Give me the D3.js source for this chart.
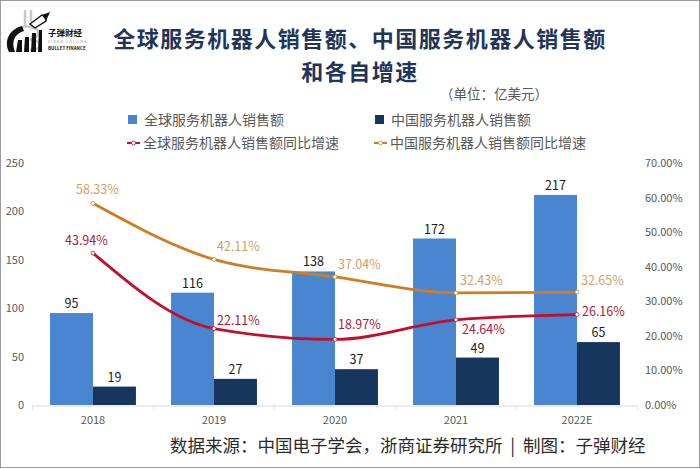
<!DOCTYPE html>
<html lang="zh">
<head>
<meta charset="UTF-8">
<title>全球服务机器人销售额、中国服务机器人销售额和各自增速</title>
<script src="https://cdn.jsdelivr.net/npm/d3@7"></script>
<style>
  body { margin: 0; background: #fff; font-family: "Noto Sans CJK SC", "Noto Sans", sans-serif; }
  svg text { font-family: "Noto Sans CJK SC", "Noto Sans", sans-serif; }
  .tick text { fill: #595959; font-size: 11px; }
</style>
</head>
<body>
<svg width="700" height="469"></svg>
<script>
  const years = ["2018", "2019", "2020", "2021", "2022E"];
  const globalSales = [95, 116, 138, 172, 217];
  const chinaSales = [19, 27, 37, 49, 65];
  const globalGrowth = [0.4394, 0.2211, 0.1897, 0.2464, 0.2616];
  const chinaGrowth = [0.5833, 0.4211, 0.3704, 0.3243, 0.3265];
  const leftTicks = [0, 50, 100, 150, 200, 250];
  const rightTicks = [0, 0.1, 0.2, 0.3, 0.4, 0.5, 0.6, 0.7];
  const seriesNames = ["全球服务机器人销售额", "中国服务机器人销售额",
                       "全球服务机器人销售额同比增速", "中国服务机器人销售额同比增速"];

  const blue = "#4a86cf", navy = "#17365d", red = "#c0102a", orange = "#cf7d22";

  const svg = d3.select("svg");

  // border
  svg.append("rect").attr("x", 0.5).attr("y", 0.5).attr("width", 699).attr("height", 467)
    .attr("fill", "none").attr("stroke", "#9a9a9a");

  // scales
  const x = d3.scaleBand().domain(years).range([32.5, 637.5]).paddingInner(0.29).paddingOuter(0.145);
  const x1 = d3.scaleBand().domain([0, 1]).range([0, x.bandwidth()]);
  const yL = d3.scaleLinear().domain([0, 250]).range([405, 163]);
  const yR = d3.scaleLinear().domain([0, 0.7]).range([405, 163]);
  const cx = d => x(d) + x.bandwidth() / 2;
  const pct = d3.format(".2%");

  // title
  const title = svg.append("g").attr("fill", "#1f3559").attr("font-weight", "bold")
    .attr("font-size", 22).attr("text-anchor", "middle").attr("letter-spacing", 1.5);
  title.append("text").attr("x", 360).attr("y", 47).text("全球服务机器人销售额、中国服务机器人销售额");
  title.append("text").attr("x", 360).attr("y", 80).text("和各自增速");

  svg.append("text").attr("x", 440).attr("y", 99).attr("font-size", 13.5).attr("fill", "#595959")
    .text("（单位：亿美元）");

  // axes
  svg.append("g").attr("transform", "translate(28,0)")
    .call(d3.axisLeft(yL).tickValues(leftTicks).tickSize(0).tickPadding(4))
    .call(g => g.select(".domain").remove());
  svg.append("g").attr("transform", "translate(641,0)")
    .call(d3.axisRight(yR).tickValues(rightTicks).tickSize(0).tickPadding(4).tickFormat(pct))
    .call(g => g.select(".domain").remove());
  svg.append("g").attr("transform", "translate(0,405.5)")
    .call(d3.axisBottom(x).tickSize(0).tickPadding(11))
    .call(g => g.select(".domain").attr("stroke", "#d9d9d9"))
    .call(g => g.selectAll(".tick text").attr("font-size", 12).attr("fill", "#404040"));
  svg.append("g").selectAll("line").data(d3.range(years.length + 1)).join("line")
    .attr("x1", i => 32.5 + i * x.step()).attr("x2", i => 32.5 + i * x.step())
    .attr("y1", 405.5).attr("y2", 410).attr("stroke", "#e3e3e3");

  // bars
  const barData = years.flatMap((yr, i) => [
    { yr, k: 0, v: globalSales[i] }, { yr, k: 1, v: chinaSales[i] }]);
  svg.append("g").selectAll("rect").data(barData).join("rect")
    .attr("x", d => x(d.yr) + x1(d.k)).attr("width", x1.bandwidth())
    .attr("y", d => yL(d.v)).attr("height", d => yL(0) - yL(d.v))
    .attr("fill", d => d.k === 0 ? blue : navy);
  svg.append("g").selectAll("text").data(barData).join("text")
    .attr("x", d => x(d.yr) + x1(d.k) + x1.bandwidth() / 2).attr("y", d => yL(d.v) - 5)
    .attr("text-anchor", "middle").attr("font-size", 12.5).attr("fill", "#1a1a1a")
    .text(d => d.v);

  // lines
  const line = d3.line().x(d => cx(d.yr)).y(d => yR(d.v)).curve(d3.curveMonotoneX);
  const lineSeries = [
    { vals: chinaGrowth, color: orange, label: "#d4a069",
      off: [[-17, -9], [3, -8], [3, -8], [4, -8], [4, -7]] },
    { vals: globalGrowth, color: red, label: "#a8203a",
      off: [[-28, -8], [3, -4], [3, -10], [6, 14], [5, 1]] }
  ];
  lineSeries.forEach(s => {
    const pts = years.map((yr, i) => ({ yr, v: s.vals[i] }));
    svg.append("path").datum(pts).attr("d", line).attr("fill", "none")
      .attr("stroke", s.color).attr("stroke-width", 2.8);
    svg.append("g").selectAll("circle").data(pts).join("circle")
      .attr("cx", d => cx(d.yr)).attr("cy", d => yR(d.v)).attr("r", 2)
      .attr("fill", "#fff").attr("stroke", s.color).attr("stroke-width", 0.8);
    svg.append("g").selectAll("text").data(pts).join("text")
      .attr("x", (d, i) => cx(d.yr) + s.off[i][0]).attr("y", (d, i) => yR(d.v) + s.off[i][1])
      .attr("font-size", 12.5).attr("fill", s.label)
      .text(d => pct(d.v));
  });

  // legend
  const legend = svg.append("g").attr("font-size", 14).attr("fill", "#595959");
  const legPos = [[128, 120], [375, 120], [127, 143], [374, 143]];
  legPos.forEach(([lx, ly], i) => {
    const g = legend.append("g").attr("transform", `translate(${lx},${ly})`);
    if (i < 2) {
      g.append("rect").attr("x", 0).attr("y", -5).attr("width", 9).attr("height", 9)
        .attr("fill", i === 0 ? blue : navy);
    } else {
      const c = i === 2 ? red : orange;
      g.append("line").attr("x1", 0).attr("x2", 13).attr("y1", 0).attr("y2", 0)
        .attr("stroke", c).attr("stroke-width", 2);
      g.append("circle").attr("cx", 6.5).attr("cy", 0).attr("r", 2)
        .attr("fill", "#fff").attr("stroke", c).attr("stroke-width", 0.8);
    }
    legend.append("text").attr("x", lx + 16).attr("y", ly + 5).text(seriesNames[i]);
  });

  // footer
  svg.append("text").attr("x", 170).attr("y", 452).attr("font-size", 17.5).attr("fill", "#2b2b2b")
    .style("white-space", "pre")
    .text("数据来源：中国电子学会，浙商证券研究所  |  制图：子弹财经");

  // logo (simplified)
  const logo = svg.append("g");
  logo.append("path").attr("fill", "none").attr("stroke", "#c8c8c8").attr("stroke-width", 2.5)
    .attr("d", "M25,10 L25,26 M31,10 L31,22 M22,27 C40,24 44,36 30,40 C44,40 44,50 30,50");
  logo.append("path").attr("fill", "#111")
    .attr("d", "M22,26 C8,30 4,42 9,52 L15,52 C11,42 14,34 24,31 Z");
  logo.append("path").attr("fill", "#111")
    .attr("d", "M16,52 L18,40 L22,40 L22,52 Z M24,52 L25,37 L29,37 L29,52 Z M31,52 L32,33 L36,33 L36,52 Z M38,52 L39,30 L42,30 L42,52 Z");
  logo.append("path").attr("fill", "#fff").attr("stroke", "#111").attr("stroke-width", 1.4)
    .attr("d", "M30,24 L42,15 L46,17 L46,21 L35,28 Z");
  logo.append("path").attr("fill", "#111").attr("d", "M42,15 L50,12 L46,21 Z");
  logo.append("text").attr("x", 48).attr("y", 35.5).attr("font-size", 8.5).attr("font-weight", "bold")
    .attr("fill", "#111").text("子弹财经");
  logo.append("text").attr("x", 48).attr("y", 43).attr("font-size", 3.5).attr("fill", "#888")
    .attr("letter-spacing", 1.2).text("ZIDAN CAIJING");
  logo.append("text").attr("x", 48).attr("y", 49.5).attr("font-size", 4.5).attr("font-weight", "bold")
    .attr("fill", "#111").text("BULLET FINANCE");
</script>
</body>
</html>
